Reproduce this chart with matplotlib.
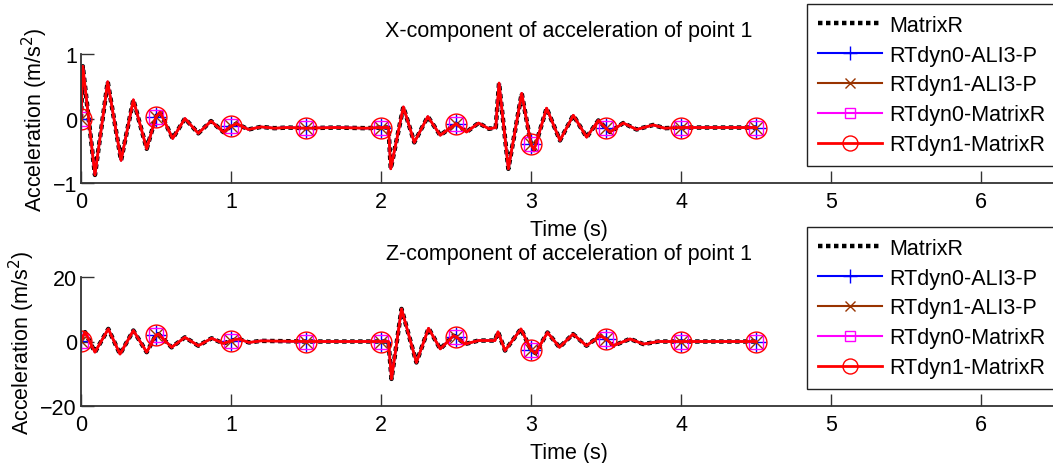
import numpy as np
import matplotlib
matplotlib.use("Agg")
import matplotlib.pyplot as plt

plt.rcParams['font.family'] = ['Liberation Sans', 'DejaVu Sans']

# ---- data ----
t_x = [0.0, 0.012, 0.093, 0.178, 0.267, 0.349, 0.438, 0.5, 0.527, 0.611,
       0.693, 0.782, 0.867, 0.949, 1.0, 1.038, 1.116, 1.2, 1.29, 1.38,
       1.5, 1.7, 1.9, 2.0, 2.05, 2.065, 2.149, 2.222, 2.312, 2.395,
       2.5, 2.57, 2.65, 2.72, 2.765, 2.787, 2.849, 2.938, 3.0, 3.02,
       3.104, 3.193, 3.282, 3.371, 3.449, 3.5, 3.527, 3.615, 3.704, 3.815,
       3.89, 4.0, 4.2, 4.5]
acc_x = [0.0, 0.81, -0.875, 0.57, -0.65, 0.29, -0.47, 0.03, 0.10, -0.31,
         0.0, -0.23, -0.04, -0.21, -0.12, -0.08, -0.17, -0.13, -0.15, -0.14,
         -0.15, -0.14, -0.15, -0.14, -0.14, -0.78, 0.18, -0.37, 0.03, -0.26,
         -0.08, -0.21, -0.07, -0.16, -0.14, 0.55, -0.78, 0.39, -0.40, -0.49,
         0.16, -0.34, 0.05, -0.29, -0.03, -0.15, -0.21, -0.07, -0.17, -0.10,
         -0.15, -0.14, -0.14, -0.14]

t_z = [0.0, 0.027, 0.093, 0.182, 0.26, 0.349, 0.438, 0.5, 0.516, 0.604,
       0.693, 0.782, 0.871, 0.949, 1.0, 1.05, 1.12, 1.2, 1.5, 2.0,
       2.05, 2.07, 2.137, 2.236, 2.317, 2.395, 2.483, 2.5, 2.56, 2.65,
       2.76, 2.78, 2.827, 2.933, 3.0, 3.03, 3.11, 3.19, 3.28, 3.37,
       3.46, 3.5, 3.55, 3.66, 3.75, 3.85, 4.0, 4.5]
acc_z = [0.3, 2.9, -3.3, 3.9, -3.9, 3.4, -3.3, 2.0, 2.3, -1.8,
         1.3, -1.3, 1.0, -0.6, 0.2, 0.8, -0.3, 0.2, 0.0, 0.0,
         0.0, -11.6, 10.1, -6.5, 4.1, -2.3, 1.8, 1.5, -0.8, 0.3,
         0.3, 3.0, -2.8, 3.9, -2.6, -3.6, 2.8, -1.8, 2.3, -1.3,
         1.8, 0.8, -1.3, 0.8, -0.8, 0.0, 0.0, 0.0]

marker_times = [0.0, 0.5, 1.0, 1.5, 2.0, 2.5, 3.0, 3.5, 4.0, 4.5]

series_labels = ["MatrixR", "RTdyn0-ALI3-P", "RTdyn1-ALI3-P",
                 "RTdyn0-MatrixR", "RTdyn1-MatrixR"]
# all five solutions coincide visually
series_x = [acc_x, acc_x, acc_x, acc_x, acc_x]
series_z = [acc_z, acc_z, acc_z, acc_z, acc_z]

titles = ["X-component of acceleration of point 1",
          "Z-component of acceleration of point 1"]
yticks_top = [-1, 0, 1]
yticks_bot = [-20, 0, 20]
xticks = [0, 1, 2, 3, 4, 5, 6]

# ---- styles ----
styles = [
    dict(color='black', lw=3.2, ls=(0, (1.0, 0.8)), marker=None),
    dict(color='#0000FF', lw=1.5, ls='-', marker='+', ms=14, mew=1.0, mfc='none'),
    dict(color='#993300', lw=1.5, ls='-', marker='x', ms=10, mew=1.0, mfc='none'),
    dict(color='#FF00FF', lw=1.5, ls='-', marker='s', ms=10, mew=1.0, mfc='none'),
    dict(color='#FF0000', lw=2.0, ls='-', marker='o', ms=15, mew=1.0, mfc='none'),
]

W, H = 1053, 464
fig = plt.figure(figsize=(W / 100, H / 100), dpi=100)

FS = 15.5
spine_c = '#333333'


def make_axes(top_px, bot_px):
    left = 81 / W
    width = 975 / W
    bottom = 1 - bot_px / H
    height = (bot_px - top_px) / H
    return fig.add_axes([left, bottom, width, height])


ax1 = make_axes(55, 184)
ax2 = make_axes(278, 407)


def draw(ax, t, series, ylim, yticks, title, legend_top_px):
    t_arr = np.asarray(t)
    mk_idx = [int(np.argmin(np.abs(t_arr - m))) for m in marker_times]
    handles = []
    for lab, vals, st in zip(series_labels, series, styles):
        kw = dict(color=st['color'], lw=st['lw'], ls=st['ls'], label=lab)
        if st['marker']:
            kw.update(marker=st['marker'], ms=st['ms'], mew=st['mew'],
                      mfc=st['mfc'], markevery=mk_idx)
        h, = ax.plot(t, vals, **kw)
        handles.append(h)
    ax.set_xlim(0, 6.5)
    ax.set_ylim(*ylim)
    ax.set_xticks(xticks)
    ax.set_yticks(yticks)
    for s in ['top', 'right']:
        ax.spines[s].set_visible(False)
    for s in ['left', 'bottom']:
        ax.spines[s].set_color(spine_c)
        ax.spines[s].set_linewidth(1.3)
    ax.tick_params(direction='in', length=9, width=1.0, color=spine_c,
                   labelsize=FS, pad=6)
    ax.tick_params(axis='y', pad=3)
    ax.set_title(title, fontsize=FS, pad=13)
    ax.set_xlabel("Time (s)", fontsize=FS, labelpad=5)
    ax.set_ylabel("Acceleration (m/s$^2$)", fontsize=FS, labelpad=2)
    leg = ax.legend(handles=handles, loc='upper left',
                    bbox_to_anchor=(807 / W, 1 - legend_top_px / H),
                    bbox_transform=fig.transFigure,
                    fontsize=FS, frameon=True, fancybox=False,
                    framealpha=1, edgecolor='#222222',
                    handlelength=3.0, handletextpad=0.3,
                    labelspacing=0.41, borderpad=0.5, borderaxespad=0,
                    markerscale=0.72)
    leg.get_frame().set_linewidth(1.0)


draw(ax1, t_x, series_x, (-1, 1), yticks_top, titles[0], 5)
draw(ax2, t_z, series_z, (-20, 20), yticks_bot, titles[1], 228)

fig.savefig("out.png", dpi=100)
